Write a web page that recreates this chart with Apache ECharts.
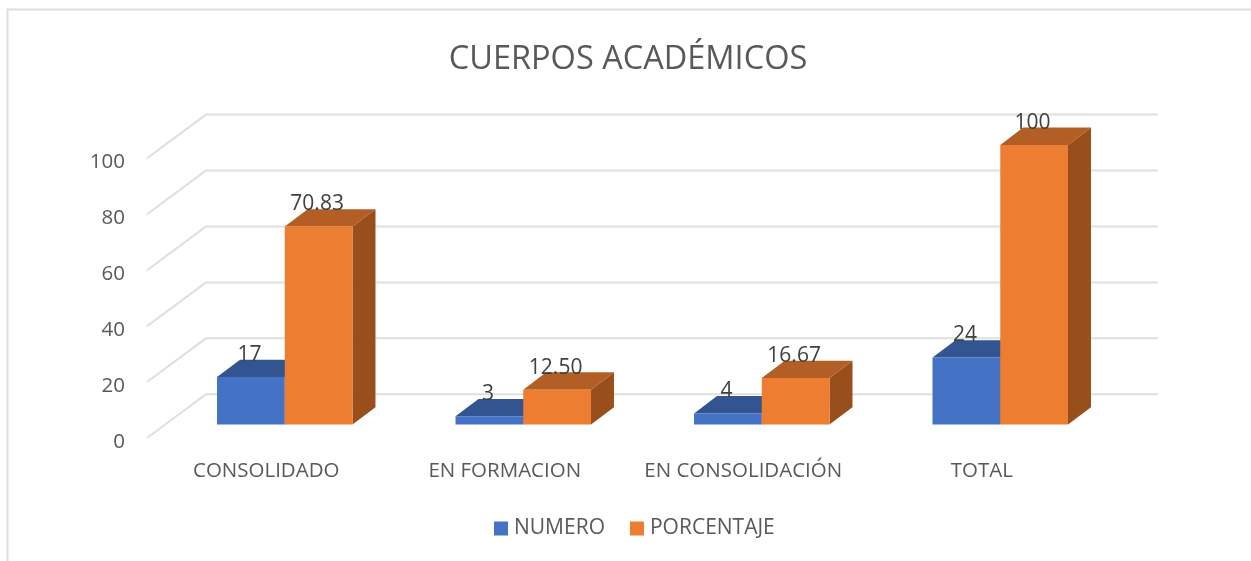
<!DOCTYPE html>
<html>
<head>
<meta charset="utf-8">
<title>Cuerpos académicos</title>
<script src="https://cdn.jsdelivr.net/npm/echarts@6/dist/echarts.min.js"></script>
<style>
  html, body { margin: 0; padding: 0; background: #fff; }
  #chart { width: 1251px; height: 561px; }
</style>
</head>
<body>
<div id="chart"></div>
<script>
const categories = ['CONSOLIDADO', 'EN FORMACION', 'EN CONSOLIDACIÓN', 'TOTAL'];
const numero = [17, 3, 4, 24];
const porcentaje = [70.83, 12.50, 16.67, 100];
const numeroLabels = ['17', '3', '4', '24'];
const porcentajeLabels = ['70.83', '12.50', '16.67', '100'];
const yTicks = [0, 20, 40, 60, 80, 100];

const FONT = '"Open Sans", sans-serif';
// fake 3D: how far the walls and the bars are pushed back from the axis plane
const WALL_DX = 59, WALL_DY = 43.7;
const BAR_SHIFT_X = 18.5, BAR_SHIFT_Y = 13.4;
const BAR_DEPTH_X = 23, BAR_DEPTH_Y = 17.3;
const BAR_WIDTH = 0.284; // share of a category

function gridItem(params, api) {
  const y = api.coord([0, api.value(0)])[1];
  const cs = params.coordSys;
  return {
    type: 'polyline',
    shape: { points: [
      [cs.x, y],
      [cs.x + WALL_DX, y - WALL_DY],
      [cs.x + cs.width + WALL_DX - 2, y - WALL_DY]
    ] },
    style: { fill: null, stroke: '#dfdfdf', lineWidth: 2 }
  };
}

function face(points, fill) {
  return { type: 'polygon', shape: { points: points }, style: { fill: fill } };
}

function barRenderer(side, front, top, right, labels) {
  return function (params, api) {
    const i = api.value(0);
    const base = api.coord([i, 0]);
    const head = api.coord([i, api.value(1)]);
    const w = api.size([1, 0])[0] * BAR_WIDTH;
    const x0 = base[0] + BAR_SHIFT_X + (side < 0 ? -w : 0);
    const x1 = x0 + w;
    const yb = base[1] - BAR_SHIFT_Y;
    const yt = head[1] - BAR_SHIFT_Y;
    return {
      type: 'group',
      children: [
        face([[x1, yb], [x1 + BAR_DEPTH_X, yb - BAR_DEPTH_Y], [x1 + BAR_DEPTH_X, yt - BAR_DEPTH_Y], [x1, yt]], right),
        face([[x0, yt], [x0 + BAR_DEPTH_X, yt - BAR_DEPTH_Y], [x1 + BAR_DEPTH_X, yt - BAR_DEPTH_Y], [x1, yt]], top),
        face([[x0, yb], [x1, yb], [x1, yt], [x0, yt]], front),
        {
          type: 'text',
          z2: 10,
          style: {
            x: (x0 + x1) / 2 - 1.5,
            y: yt - 22,
            text: labels[i],
            align: 'center',
            verticalAlign: 'middle',
            font: '21px ' + FONT,
            fill: '#404040'
          }
        }
      ]
    };
  };
}

const chart = echarts.init(document.getElementById('chart'));
chart.setOption({
  animation: false,
  backgroundColor: '#fff',
  textStyle: { fontFamily: FONT },
  title: {
    text: 'CUERPOS ACADÉMICOS',
    left: 623,
    textAlign: 'center',
    top: 38,
    textStyle: { fontFamily: FONT, fontSize: 32.5, fontWeight: 'normal', color: '#595959' }
  },
  legend: {
    data: ['NUMERO', 'PORCENTAJE'],
    left: 489,
    top: 513,
    icon: 'rect',
    itemWidth: 14,
    itemHeight: 14,
    itemGap: 25,
    selectedMode: false,
    textStyle: { fontFamily: FONT, fontSize: 21, color: '#595959', padding: [0, 0, 0, 1] }
  },
  grid: { left: 147, right: 150, top: 158.3, bottom: 123 },
  xAxis: {
    type: 'category',
    data: categories,
    axisLine: { show: false },
    axisTick: { show: false },
    axisLabel: { margin: 23, fontFamily: FONT, fontSize: 20.5, color: '#595959', interval: 0 }
  },
  yAxis: {
    type: 'value',
    min: 0,
    max: 100,
    interval: 20,
    axisLine: { show: false },
    axisTick: { show: false },
    splitLine: { show: false },
    // top-aligned with a short line box, drops the numbers just under their tick
    axisLabel: { margin: 22, fontFamily: FONT, fontSize: 20.5, color: '#595959', verticalAlign: 'top', lineHeight: 8 }
  },
  graphic: [
    { type: 'polyline', silent: true, shape: { points: [[7.5, 561], [7.5, 9.5], [1251, 9.5]] },
      style: { fill: null, stroke: '#dedede', lineWidth: 2 } }
  ],
  series: [
    {
      type: 'custom',
      name: 'rejilla',
      silent: true,
      data: yTicks.map(v => [v]),
      encode: { y: 0 },
      renderItem: gridItem
    },
    {
      type: 'custom',
      name: 'NUMERO',
      itemStyle: { color: '#4472C4' },
      data: numero.map((v, i) => [i, v]),
      encode: { x: 0, y: 1 },
      renderItem: barRenderer(-1, '#4472C4', '#325591', '#264370', numeroLabels)
    },
    {
      type: 'custom',
      name: 'PORCENTAJE',
      itemStyle: { color: '#ED7D31' },
      data: porcentaje.map((v, i) => [i, v]),
      encode: { x: 0, y: 1 },
      renderItem: barRenderer(1, '#ED7D31', '#B25E24', '#984F1B', porcentajeLabels)
    }
  ]
});
</script>
</body>
</html>
